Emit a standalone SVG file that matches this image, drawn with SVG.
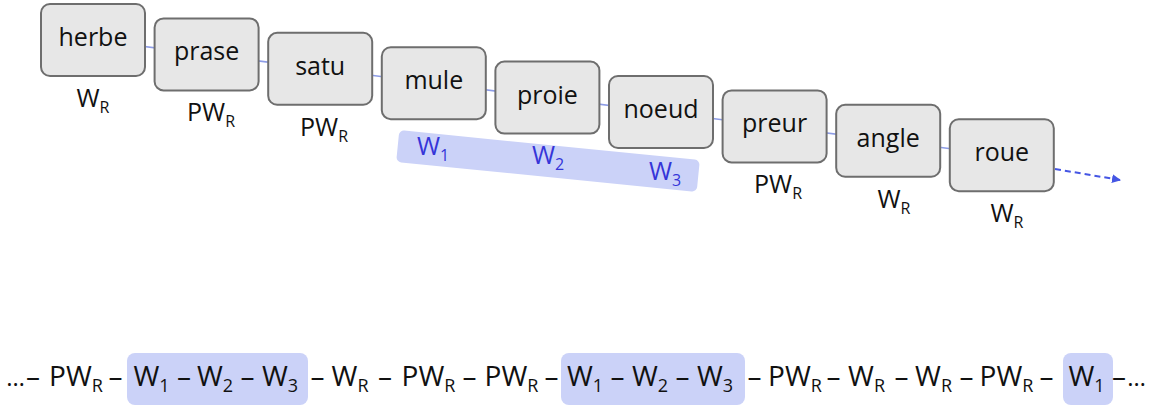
<svg xmlns="http://www.w3.org/2000/svg" width="1149" height="405" viewBox="0 0 1149 405">
<style>
  .box { fill: #e7e7e7; stroke: #6e6e6e; stroke-width: 2; }
  .word { font-family: "Open Sans", "Liberation Sans", sans-serif; font-size: 25px; fill: #111; text-anchor: middle; }
  .lab { font-family: "Open Sans", "Liberation Sans", sans-serif; font-size: 25px; fill: #111; text-anchor: middle; }
  .sub { font-size: 16px; }
  .blue { fill: #3535d8; }
  .band { fill: #cbd2f8; }
  .conn { stroke: #8d9ce6; stroke-width: 1.6; fill: none; }
  .dash { stroke: #4556e4; stroke-width: 2; stroke-dasharray: 6 4; fill: none; }
  .seq { font-family: "Open Sans", "Liberation Sans", sans-serif; font-size: 28px; fill: #111; text-anchor: middle; }
  .ell { font-size: 24px; }
  .ssub { font-size: 18px; }
</style>
<defs>
  <marker id="arr" markerWidth="10" markerHeight="10" refX="8" refY="5" orient="auto" markerUnits="userSpaceOnUse">
    <path d="M0,0.5 L9,5 L0,9.5 Z" fill="#4556e4"/>
  </marker>
</defs>

<g id="band">
  <rect class="band" x="-151" y="-16" width="302" height="32" rx="5" transform="translate(548,161) rotate(5.7)"/>
  <text class="lab blue" x="417" y="155" style="text-anchor:start">W<tspan class="sub" dy="6">1</tspan></text>
  <text class="lab blue" x="532" y="164" style="text-anchor:start">W<tspan class="sub" dy="6">2</tspan></text>
  <text class="lab blue" x="649" y="180" style="text-anchor:start">W<tspan class="sub" dy="6">3</tspan></text>
</g>

<g id="connectors">
  <line class="conn" x1="93" y1="40" x2="206.6" y2="54.4"/>
  <line class="conn" x1="206.6" y1="54.4" x2="320.2" y2="68.8"/>
  <line class="conn" x1="320.2" y1="68.8" x2="433.8" y2="83.2"/>
  <line class="conn" x1="433.8" y1="83.2" x2="547.4" y2="97.6"/>
  <line class="conn" x1="547.4" y1="97.6" x2="661" y2="112"/>
  <line class="conn" x1="661" y1="112" x2="774.6" y2="126.4"/>
  <line class="conn" x1="774.6" y1="126.4" x2="888.2" y2="140.8"/>
  <line class="conn" x1="888.2" y1="140.8" x2="1001.8" y2="155.2"/>
  <line class="dash" x1="1055" y1="169" x2="1120" y2="180" marker-end="url(#arr)"/>
</g>

<g id="node-herbe">
  <rect class="box" x="41" y="4" width="104" height="72" rx="9"/>
  <text class="word" x="93" y="46">herbe</text>
  <text class="lab" x="93" y="107">W<tspan class="sub" dy="6">R</tspan></text>
</g>
<g id="node-prase">
  <rect class="box" x="154.6" y="18.4" width="104" height="72" rx="9"/>
  <text class="word" x="206.6" y="60.4">prase</text>
  <text class="lab" x="211" y="121.4">PW<tspan class="sub" dy="6">R</tspan></text>
</g>
<g id="node-satu">
  <rect class="box" x="268.2" y="32.8" width="104" height="72" rx="9"/>
  <text class="word" x="320.2" y="74.8">satu</text>
  <text class="lab" x="324" y="135.8">PW<tspan class="sub" dy="6">R</tspan></text>
</g>
<g id="node-mule">
  <rect class="box" x="381.8" y="47.2" width="104" height="72" rx="9"/>
  <text class="word" x="433.8" y="89.2">mule</text>
</g>
<g id="node-proie">
  <rect class="box" x="495.4" y="61.6" width="104" height="72" rx="9"/>
  <text class="word" x="547.4" y="103.6">proie</text>
</g>
<g id="node-noeud">
  <rect class="box" x="609" y="76" width="104" height="72" rx="9"/>
  <text class="word" x="661" y="118">noeud</text>
</g>
<g id="node-preur">
  <rect class="box" x="722.6" y="90.4" width="104" height="72" rx="9"/>
  <text class="word" x="774.6" y="132.4">preur</text>
  <text class="lab" x="778" y="193.4">PW<tspan class="sub" dy="6">R</tspan></text>
</g>
<g id="node-angle">
  <rect class="box" x="836.2" y="104.8" width="104" height="72" rx="9"/>
  <text class="word" x="888.2" y="146.8">angle</text>
  <text class="lab" x="894" y="207.8">W<tspan class="sub" dy="6">R</tspan></text>
</g>
<g id="node-roue">
  <rect class="box" x="949.8" y="119.2" width="104" height="72" rx="9"/>
  <text class="word" x="1001.8" y="161.2">roue</text>
  <text class="lab" x="1007" y="222.2">W<tspan class="sub" dy="6">R</tspan></text>
</g>

<g id="sequence">
  <rect class="band" x="127" y="353" width="181" height="52" rx="8"/>
  <rect class="band" x="561" y="353" width="184" height="52" rx="8"/>
  <rect class="band" x="1063" y="353" width="50" height="52" rx="8"/>
  <text class="seq ell" x="25" y="386" style="text-anchor:end">…</text>
  <text class="seq" x="33" y="386">–</text>
  <text class="seq" x="76" y="386">PW<tspan class="ssub" dy="6">R</tspan></text>
  <text class="seq" x="115.5" y="386">–</text>
  <text class="seq blue" x="151.5" y="386">W<tspan class="ssub" dy="6">1</tspan></text>
  <text class="seq" x="184" y="386">–</text>
  <text class="seq blue" x="215" y="386">W<tspan class="ssub" dy="6">2</tspan></text>
  <text class="seq" x="247.5" y="386">–</text>
  <text class="seq blue" x="280" y="386">W<tspan class="ssub" dy="6">3</tspan></text>
  <text class="seq" x="317.5" y="386">–</text>
  <text class="seq" x="350" y="386">W<tspan class="ssub" dy="6">R</tspan></text>
  <text class="seq" x="385" y="386">–</text>
  <text class="seq" x="428.5" y="386">PW<tspan class="ssub" dy="6">R</tspan></text>
  <text class="seq" x="469.5" y="386">–</text>
  <text class="seq" x="511.5" y="386">PW<tspan class="ssub" dy="6">R</tspan></text>
  <text class="seq" x="551.5" y="386">–</text>
  <text class="seq blue" x="585" y="386">W<tspan class="ssub" dy="6">1</tspan></text>
  <text class="seq" x="617.5" y="386">–</text>
  <text class="seq blue" x="650" y="386">W<tspan class="ssub" dy="6">2</tspan></text>
  <text class="seq" x="682.5" y="386">–</text>
  <text class="seq blue" x="715" y="386">W<tspan class="ssub" dy="6">3</tspan></text>
  <text class="seq" x="754.5" y="386">–</text>
  <text class="seq" x="795" y="386">PW<tspan class="ssub" dy="6">R</tspan></text>
  <text class="seq" x="833.5" y="386">–</text>
  <text class="seq" x="866.5" y="386">W<tspan class="ssub" dy="6">R</tspan></text>
  <text class="seq" x="901.5" y="386">–</text>
  <text class="seq" x="933.5" y="386">W<tspan class="ssub" dy="6">R</tspan></text>
  <text class="seq" x="966.5" y="386">–</text>
  <text class="seq" x="1006.5" y="386">PW<tspan class="ssub" dy="6">R</tspan></text>
  <text class="seq" x="1046.5" y="386">–</text>
  <text class="seq blue" x="1086.5" y="386">W<tspan class="ssub" dy="6">1</tspan></text>
  <text class="seq" x="1119" y="386">–</text>
  <text class="seq ell" x="1146" y="386" style="text-anchor:end">…</text>
</g>
</svg>
